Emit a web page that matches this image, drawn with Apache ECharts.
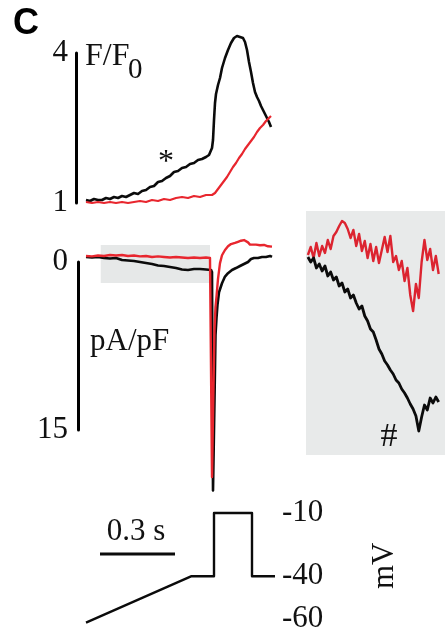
<!DOCTYPE html>
<html>
<head>
<meta charset="utf-8">
<script src="https://cdn.jsdelivr.net/npm/echarts@6/dist/echarts.min.js"></script>
<style>
  html, body { margin: 0; padding: 0; background: #fff; }
  #chart { width: 445px; height: 634px; }
</style>
</head>
<body>
<div id="chart"></div>
<script>
// Fluorescence (F/F0), time in ms
const fTimeBlack = [0, 16, 32, 48, 64, 80, 96, 112, 128, 144, 160, 176, 192, 208, 224, 240, 256, 272, 288, 304,
    320, 336, 352, 368, 384, 400, 416, 432, 448, 464, 480, 492, 496, 504, 508, 512, 516, 520, 528, 536, 544,
    556, 568, 580, 592, 604, 616, 628, 636, 644, 652, 660, 668, 676, 684, 692, 700, 708, 716, 724, 732, 740];
const fBlack = [1.06, 1.04, 1.08, 1.06, 1.06, 1.10, 1.08, 1.12, 1.10, 1.14, 1.12, 1.16, 1.20, 1.18, 1.24, 1.26,
    1.32, 1.34, 1.42, 1.44, 1.50, 1.54, 1.62, 1.64, 1.70, 1.72, 1.78, 1.80, 1.86, 1.88, 1.92, 1.96, 2.00, 2.10,
    2.26, 2.66, 3.00, 3.18, 3.36, 3.50, 3.70, 3.90, 4.06, 4.20, 4.30, 4.34, 4.32, 4.30, 4.22, 4.06, 3.82, 3.62,
    3.40, 3.22, 3.12, 3.04, 2.94, 2.86, 2.78, 2.70, 2.62, 2.52];
const fTimeRed = [0, 24, 48, 72, 96, 120, 144, 168, 192, 216, 240, 264, 288, 312, 336, 360, 384, 408, 432, 456,
    480, 504, 516, 528, 540, 552, 564, 576, 588, 600, 612, 624, 636, 648, 660, 672, 684, 696, 708, 720, 732, 740];
const fRed = [1.02, 1.00, 1.02, 1.00, 1.02, 1.00, 1.02, 1.00, 1.02, 1.04, 1.02, 1.06, 1.04, 1.08, 1.06, 1.10,
    1.12, 1.10, 1.14, 1.12, 1.16, 1.16, 1.20, 1.28, 1.36, 1.44, 1.52, 1.62, 1.72, 1.80, 1.90, 1.98, 2.08, 2.16,
    2.24, 2.32, 2.42, 2.50, 2.56, 2.64, 2.70, 2.74];

// Current (pA/pF)
const iTimeBlack = [0, 24, 48, 72, 96, 120, 144, 168, 192, 216, 240, 264, 288, 312, 336, 360, 384, 408, 432, 456,
    480, 500, 504, 508, 514, 518, 522, 526, 532, 544, 556, 568, 584, 600, 616, 632, 648, 660, 672, 688, 704, 720,
    736, 744];
const iBlack = [0.45, 0.40, 0.45, 0.36, 0.31, 0.36, 0.18, 0.13, 0.09, 0.00, -0.09, -0.18, -0.31, -0.36, -0.45,
    -0.54, -0.67, -0.71, -0.63, -0.63, -0.67, -0.71, -0.89, -20.4, -12.3, -6.5, -5.0, -3.8, -2.7, -1.9, -1.3, -1.0,
    -0.71, -0.54, -0.36, -0.18, 0.00, 0.27, 0.36, 0.36, 0.45, 0.45, 0.54, 0.45];
const iTimeRed = [0, 24, 48, 72, 96, 120, 144, 168, 192, 216, 240, 264, 288, 312, 336, 360, 384, 408, 432, 456,
    480, 496, 500, 504, 510, 514, 518, 522, 528, 536, 544, 556, 568, 580, 596, 608, 620, 632, 640, 648, 656, 664,
    680, 696, 712, 728, 744];
const iRed = [0.54, 0.50, 0.58, 0.54, 0.62, 0.58, 0.62, 0.54, 0.58, 0.50, 0.54, 0.45, 0.50, 0.45, 0.40, 0.45,
    0.40, 0.36, 0.40, 0.36, 0.40, 0.36, 0.30, -19.2, -11.0, -6.0, -4.0, -3.1, -1.5, -0.1, 0.6, 1.07, 1.4, 1.6,
    1.7, 1.8, 1.9, 1.96, 1.9, 1.75, 1.55, 1.52, 1.55, 1.5, 1.52, 1.4, 1.37];
// shaded window: [start ms, end ms, top pA/pF, bottom pA/pF]
const shadedWindow = [59, 496, 1.52, -1.88];

// Inset: magnified view of the shaded window
const insetTime = [66, 75, 84, 93, 102, 111, 120, 129, 138, 147, 156, 165, 174, 183, 192, 201, 210, 219, 228,
    237, 246, 255, 264, 273, 282, 291, 300, 309, 318, 327, 336, 345, 354, 363, 372, 381, 390, 399, 408, 417, 426,
    435, 444, 453, 462, 471, 480];
const insetRed = [0.06, 0.14, 0.03, 0.18, 0.05, 0.15, 0.08, 0.21, 0.12, 0.25, 0.29, 0.35, 0.40, 0.38, 0.32, 0.23,
    0.31, 0.15, 0.27, 0.10, 0.20, 0.03, 0.17, 0.00, 0.14, -0.02, 0.11, 0.24, 0.09, 0.25, -0.01, 0.05, -0.09, 0.00,
    -0.20, -0.07, -0.34, -0.50, -0.23, -0.37, -0.01, 0.21, 0.01, 0.12, -0.09, 0.05, -0.13];
const insetBlack = [0.04, -0.01, 0.03, -0.07, -0.03, -0.10, -0.05, -0.15, -0.11, -0.19, -0.16, -0.25, -0.22,
    -0.31, -0.28, -0.37, -0.34, -0.42, -0.48, -0.45, -0.55, -0.60, -0.68, -0.71, -0.79, -0.88, -0.93, -1.00,
    -1.04, -1.09, -1.13, -1.19, -1.22, -1.28, -1.32, -1.37, -1.43, -1.48, -1.55, -1.70, -1.56, -1.44, -1.49,
    -1.37, -1.42, -1.36, -1.41];

// Voltage protocol (mV)
const vTime = [0, 420, 512, 512, 664, 664, 756];
const vMv = [-62, -40, -40, -10, -10, -40, -40];
const mvTicks = [-60, -40, -10];
const scaleBarMs = [56, 356];
const scaleBarMv = -29.4;

const serif = '"Liberation Serif", "Times New Roman", serif';
const BLACK = '#0b0b0b';
const RED = '#e8262e';

function pairs(t, v) {
    return t.map((x, i) => [x, v[i]]);
}

function trace(xi, data, color, width, z) {
    return {
        type: 'line',
        xAxisIndex: xi,
        yAxisIndex: xi,
        data: data,
        symbol: 'none',
        clip: false,
        silent: true,
        z: z,
        lineStyle: { color: color, width: width, join: 'round' }
    };
}

function text(str, x, y, size, align, extra) {
    return {
        type: 'text', x: x, y: y, z: 10,
        style: Object.assign({
            text: str, font: size + 'px ' + serif, fill: '#111',
            align: align, verticalAlign: 'middle', textAlign: align, textVerticalAlign: 'middle'
        }, extra || {})
    };
}

const chart = echarts.init(document.getElementById('chart'));

const labelStyle = { fontFamily: serif, fontSize: 31, color: '#111' };
const barLine = { show: true, onZero: false, lineStyle: { color: '#000', width: 3 } };

// 4 ms per pixel on every main panel; the scale bars sit a little left of the traces
chart.setOption({
    animation: false,
    backgroundColor: '#fff',
    grid: [
        { left: 76, top: 53, width: 200, height: 150 },
        { left: 78, top: 262, width: 198, height: 168 },
        { left: 86, top: 513, width: 190, height: 108 },
        { left: 306, top: 211, width: 146.7, height: 244, show: true, backgroundColor: '#e8eaea', borderWidth: 0 }
    ],
    xAxis: [
        { gridIndex: 0, type: 'value', min: -40, max: 760, show: false },
        { gridIndex: 1, type: 'value', min: -32, max: 760, show: false },
        { gridIndex: 2, type: 'value', min: 0, max: 760, show: false },
        { gridIndex: 3, type: 'value', min: 60, max: 500, show: false }
    ],
    yAxis: [
        {
            gridIndex: 0, type: 'value', min: 1, max: 4,
            axisLine: barLine,
            axisTick: { show: false }, splitLine: { show: false },
            axisLabel: Object.assign({ customValues: [1, 4], margin: 8 }, labelStyle)
        },
        {
            gridIndex: 1, type: 'value', min: -15, max: 0,
            axisLine: barLine,
            axisTick: { show: false }, splitLine: { show: false },
            axisLabel: Object.assign({ customValues: [-15, 0], margin: 10, formatter: v => String(Math.abs(v)) }, labelStyle)
        },
        {
            gridIndex: 2, type: 'value', min: -60, max: -10, position: 'right',
            axisLine: { show: false, onZero: false }, axisTick: { show: false }, splitLine: { show: false },
            axisLabel: Object.assign({ customValues: mvTicks, margin: 6 }, labelStyle),
            name: 'mV', nameLocation: 'middle', nameRotate: 90, nameGap: 93,
            nameTextStyle: { fontFamily: serif, fontSize: 31, color: '#111' }
        },
        { gridIndex: 3, type: 'value', min: -1.94, max: 0.5, show: false }
    ],
    series: [
        {
            type: 'custom', xAxisIndex: 1, yAxisIndex: 1, clip: false, silent: true, z: 1,
            data: [shadedWindow],
            renderItem: function(params, api) {
                const p0 = api.coord([api.value(0), api.value(2)]);
                const p1 = api.coord([api.value(1), api.value(3)]);
                return {
                    type: 'rect',
                    shape: { x: p0[0], y: p0[1], width: p1[0] - p0[0], height: p1[1] - p0[1] },
                    style: { fill: '#e6e8e8' }
                };
            }
        },
        trace(0, pairs(fTimeBlack, fBlack), BLACK, 2.6, 3),
        trace(0, pairs(fTimeRed, fRed), RED, 2.2, 4),
        trace(1, pairs(iTimeBlack, iBlack), BLACK, 2.6, 3),
        trace(1, pairs(iTimeRed, iRed), RED, 2.4, 4),
        trace(2, pairs(vTime, vMv), BLACK, 2.4, 3),
        trace(2, [[scaleBarMs[0], scaleBarMv], [scaleBarMs[1], scaleBarMv]], BLACK, 3, 3),
        trace(3, pairs(insetTime, insetRed), '#dc2430', 2.4, 4),
        trace(3, pairs(insetTime, insetBlack), BLACK, 2.8, 5)
    ],
    graphic: [
        {
            type: 'text', x: 26, y: 24, z: 10,
            style: { text: 'C', font: 'bold 36px "Liberation Sans", Arial, sans-serif', fill: '#000',
                     align: 'center', verticalAlign: 'middle', textAlign: 'center', textVerticalAlign: 'middle' }
        },
        text('F/F', 85, 57, 32, 'left'),
        text('0', 128, 70, 29, 'left'),
        text('*', 166, 163, 32, 'center'),
        text('pA/pF', 90, 342, 31, 'left'),
        text('#', 389, 437, 34, 'center'),
        text('0.3 s', 136, 532, 31, 'center')
    ]
});

window.addEventListener('resize', function() {
    chart.resize();
});
</script>
</body>
</html>
